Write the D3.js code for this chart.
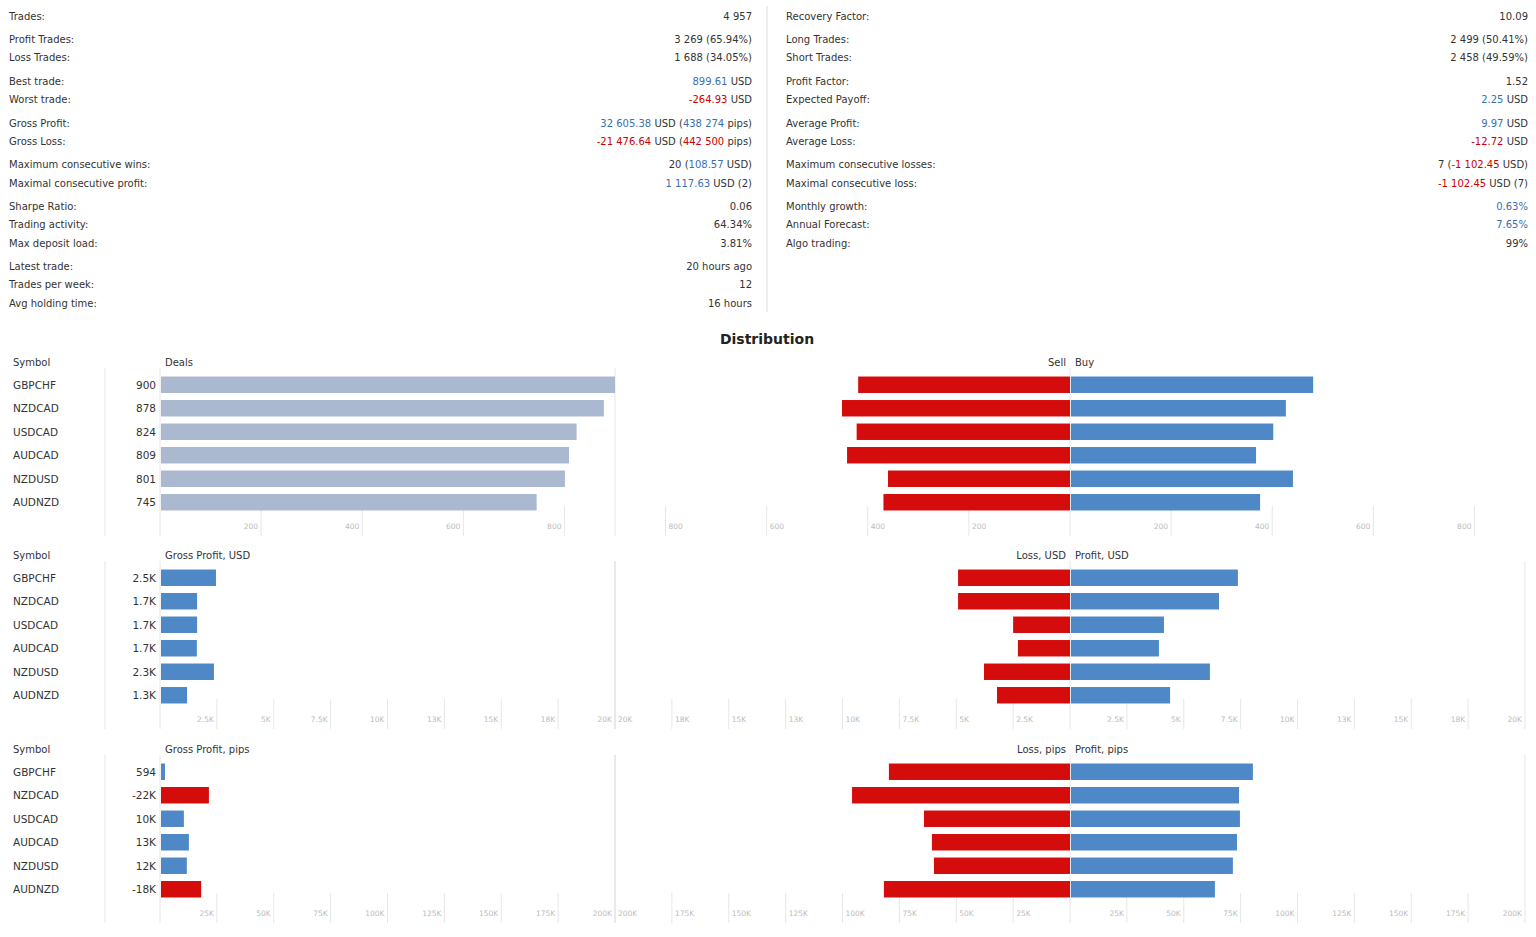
<!DOCTYPE html>
<html><head><meta charset="utf-8">
<script src="https://cdn.jsdelivr.net/npm/d3@7"></script>
<style>body{margin:0;background:#fff}text{font-family:"DejaVu Sans",Verdana,sans-serif}</style>
</head><body><svg id="c" width="1536" height="937"></svg>
<script>
// stats table: segments, "b" = blue, "r" = red, "" = plain
var leftStats = [
  ["Trades:", [["4 957",""]], 16],
  ["Profit Trades:", [["3 269 (65.94%)",""]], 39],
  ["Loss Trades:", [["1 688 (34.05%)",""]], 57],
  ["Best trade:", [["899.61","b"],[" USD",""]], 81],
  ["Worst trade:", [["-264.93","r"],[" USD",""]], 99],
  ["Gross Profit:", [["32 605.38","b"],[" USD (",""],["438 274","b"],[" pips)",""]], 123],
  ["Gross Loss:", [["-21 476.64","r"],[" USD (",""],["442 500","r"],[" pips)",""]], 141],
  ["Maximum consecutive wins:", [["20 (",""],["108.57","b"],[" USD)",""]], 164],
  ["Maximal consecutive profit:", [["1 117.63","b"],[" USD (2)",""]], 183],
  ["Sharpe Ratio:", [["0.06",""]], 206],
  ["Trading activity:", [["64.34%",""]], 224],
  ["Max deposit load:", [["3.81%",""]], 243],
  ["Latest trade:", [["20 hours ago",""]], 266],
  ["Trades per week:", [["12",""]], 284],
  ["Avg holding time:", [["16 hours",""]], 303]
];
var rightStats = [
  ["Recovery Factor:", [["10.09",""]], 16],
  ["Long Trades:", [["2 499 (50.41%)",""]], 39],
  ["Short Trades:", [["2 458 (49.59%)",""]], 57],
  ["Profit Factor:", [["1.52",""]], 81],
  ["Expected Payoff:", [["2.25","b"],[" USD",""]], 99],
  ["Average Profit:", [["9.97","b"],[" USD",""]], 123],
  ["Average Loss:", [["-12.72","r"],[" USD",""]], 141],
  ["Maximum consecutive losses:", [["7 (",""],["-1 102.45","r"],[" USD)",""]], 164],
  ["Maximal consecutive loss:", [["-1 102.45","r"],[" USD (7)",""]], 183],
  ["Monthly growth:", [["0.63%","b"]], 206],
  ["Annual Forecast:", [["7.65%","b"]], 224],
  ["Algo trading:", [["99%",""]], 243]
];

var symbols = ["GBPCHF","NZDCAD","USDCAD","AUDCAD","NZDUSD","AUDNZD"];
var deals = [900, 878, 824, 809, 801, 745];
var dealsSell = [419, 451, 422, 441, 360, 369];
var dealsBuy = [481, 427, 402, 368, 441, 376];
var dealTicks = [200, 400, 600, 800];

var grossUsd = [2460, 1630, 1630, 1620, 2370, 1190];
var grossUsdLabels = ["2.5K","1.7K","1.7K","1.7K","2.3K","1.3K"];
var lossUsd = [4920, 4920, 2500, 2290, 3780, 3210];
var profitUsd = [7380, 6550, 4130, 3910, 6150, 4400];
var usdTicks = [2500, 5000, 7500, 10000, 12500, 15000, 17500, 20000];
var usdTickLabels = ["2.5K","5K","7.5K","10K","13K","15K","18K","20K"];

var grossPips = [594, -21500, 10500, 12700, 11800, -18100];
var grossPipsLabels = ["594","-22K","10K","13K","12K","-18K"];
var lossPips = [79600, 95800, 64200, 60700, 59800, 81800];
var profitPips = [80400, 74300, 74700, 73400, 71600, 63700];
var pipTicks = [25000, 50000, 75000, 100000, 125000, 150000, 175000, 200000];
var pipTickLabels = ["25K","50K","75K","100K","125K","150K","175K","200K"];

var BLUE = "#4f88c6", RED = "#d40c0c", GREY = "#aab8d0", TXT = "#333";
var svg = d3.select("#c");

function drawStats(rows, lx, rx) {
  rows.forEach(function(r) {
    svg.append("text").attr("x", lx).attr("y", r[2] + 3.5).attr("font-size", 10).attr("fill", TXT).text(r[0]);
    var t = svg.append("text").attr("x", rx).attr("y", r[2] + 3.5).attr("font-size", 10)
      .attr("text-anchor", "end").attr("fill", TXT);
    r[1].forEach(function(s) {
      t.append("tspan").attr("fill", s[1] == "b" ? "#3a6fb0" : s[1] == "r" ? "#cc0000" : TXT).text(s[0]);
    });
  });
}
drawStats(leftStats, 9, 752);
drawStats(rightStats, 786, 1528);
svg.append("line").attr("x1", 767).attr("x2", 767).attr("y1", 6).attr("y2", 312).attr("stroke", "#ddd");

svg.append("text").attr("x", 767).attr("y", 344).attr("text-anchor", "middle")
  .attr("font-size", 14).attr("font-weight", "bold").attr("fill", "#222").text("Distribution");

function panel(top, cfg) {
  var y = d3.scaleBand().domain(symbols).range([top + 10, top + 151]).paddingInner(0.3).paddingOuter(0.15);
  var xl = d3.scaleLinear().domain([0, cfg.max]).range([160, 615]);
  var xs = d3.scaleLinear().domain([0, cfg.max]).range([1070, 615]);
  var xb = d3.scaleLinear().domain([0, cfg.max]).range([1070, 1525]);
  var g = svg.append("g");
  var bottom = top + 173;
  var gc = "#e6e6e6";
  g.append("line").attr("x1", 105).attr("x2", 105).attr("y1", top + 5).attr("y2", bottom).attr("stroke", gc);
  [160, 615, 1070].forEach(function(x) {
    g.append("line").attr("x1", x).attr("x2", x).attr("y1", top + 5).attr("y2", bottom).attr("stroke", gc);
  });
  cfg.ticks.forEach(function(v, i) {
    var lab = cfg.tickLabels ? cfg.tickLabels[i] : v;
    [[xl, "end", -3], [xs, "start", 3], [xb, "end", -3]].forEach(function(p, k) {
      var x = p[0](v);
      var gy = (v == cfg.max) ? top + 5 : bottom - 30;
      g.append("line").attr("x1", x).attr("x2", x).attr("y1", gy).attr("y2", bottom).attr("stroke", gc);
      if (k == 0 && cfg.noLastLeft && v == cfg.max) return;
      g.append("text").attr("x", x + p[2]).attr("y", bottom - 7).attr("text-anchor", p[1])
        .attr("font-size", 7.5).attr("fill", "#bbb").text(lab);
    });
  });
  g.append("text").attr("x", 13).attr("y", top + 3).attr("font-size", 10).attr("fill", TXT).text("Symbol");
  g.append("text").attr("x", 165).attr("y", top + 3).attr("font-size", 10).attr("fill", TXT).text(cfg.title);
  g.append("text").attr("x", 1066).attr("y", top + 3).attr("font-size", 10).attr("text-anchor", "end").attr("fill", TXT).text(cfg.sellTitle);
  g.append("text").attr("x", 1075).attr("y", top + 3).attr("font-size", 10).attr("fill", TXT).text(cfg.buyTitle);
  symbols.forEach(function(s, i) {
    var yy = y(s), h = y.bandwidth(), cy = yy + h / 2 + 4;
    g.append("text").attr("x", 13).attr("y", cy).attr("font-size", 10.5).attr("fill", TXT).text(s);
    g.append("text").attr("x", 156).attr("y", cy).attr("font-size", 10.5).attr("text-anchor", "end").attr("fill", TXT).text(cfg.labels[i]);
    var v = cfg.left[i];
    g.append("rect").attr("x", 161).attr("y", yy).attr("height", h)
      .attr("width", Math.max(4, xl(Math.abs(v)) - 161))
      .attr("fill", cfg.grey ? GREY : (v < 0 ? RED : BLUE));
    g.append("rect").attr("x", xs(cfg.sell[i])).attr("y", yy).attr("height", h)
      .attr("width", 1070 - xs(cfg.sell[i])).attr("fill", RED);
    g.append("rect").attr("x", 1071).attr("y", yy).attr("height", h)
      .attr("width", xb(cfg.buy[i]) - 1071).attr("fill", BLUE);
  });
}

panel(363, {max: 900, ticks: dealTicks, title: "Deals", sellTitle: "Sell", buyTitle: "Buy",
  labels: deals, left: deals, sell: dealsSell, buy: dealsBuy, grey: true});
panel(556, {max: 20000, ticks: usdTicks, tickLabels: usdTickLabels, title: "Gross Profit, USD",
  sellTitle: "Loss, USD", buyTitle: "Profit, USD", labels: grossUsdLabels, left: grossUsd, sell: lossUsd, buy: profitUsd});
panel(750, {max: 200000, ticks: pipTicks, tickLabels: pipTickLabels, title: "Gross Profit, pips",
  sellTitle: "Loss, pips", buyTitle: "Profit, pips", labels: grossPipsLabels, left: grossPips, sell: lossPips, buy: profitPips});
</script></body></html>
